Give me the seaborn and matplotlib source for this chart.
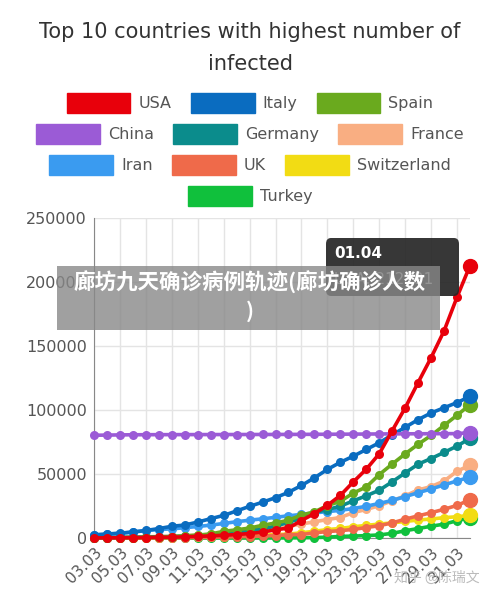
import matplotlib
matplotlib.use("Agg")
import matplotlib.pyplot as plt
import matplotlib.patches as mpatches
import seaborn as sns
import pandas as pd

dates = ["03.03","04.03","05.03","06.03","07.03","08.03","09.03","10.03","11.03","12.03",
         "13.03","14.03","15.03","16.03","17.03","18.03","19.03","20.03","21.03","22.03",
         "23.03","24.03","25.03","26.03","27.03","28.03","29.03","30.03","31.03","01.04"]
usa = [118,149,217,262,402,518,583,959,1281,1663,2179,2726,3499,4632,6421,7786,13680,19101,25493,33276,43847,53740,65778,83836,101657,121478,140886,161807,188172,212791]
italy = [2502,3089,3858,4636,5883,7375,9172,10149,12462,15113,17660,21157,24747,27980,31506,35713,41035,47021,53578,59138,63927,69176,74386,80589,86498,92472,97689,101739,105792,110574]
spain = [165,222,259,400,500,673,1073,1695,2277,3146,5232,6391,7798,9942,11748,13910,17963,20410,25374,28603,35136,39885,49515,57786,65719,73235,80110,87956,95923,104118]
china = [80270,80409,80552,80651,80695,80735,80754,80778,80793,80813,80824,80844,80860,80881,80894,80928,80967,81008,81054,81093,81171,81218,81285,81340,81394,81439,81470,81518,81554,82361]
germany = [196,262,482,670,799,1040,1176,1457,1908,2078,3675,4585,5795,7272,9257,12327,15320,19848,22213,24873,29056,32986,37323,43938,50871,57695,62095,66885,71808,77872]
france = [212,285,423,653,949,1126,1209,1784,2281,2876,3661,4499,5423,6633,7730,9134,10995,12612,14459,16018,19856,22304,25233,29155,32964,37575,40174,44550,52128,56989]
iran = [2336,2922,3513,4747,5823,6566,7161,8042,9000,10075,11364,12729,13938,14991,16169,17361,18407,19644,20610,21638,23049,24811,27017,29406,32332,35408,38309,41495,44605,47593]
uk = [51,87,116,164,207,274,322,384,459,459,802,1144,1145,1551,1960,2642,2716,4014,5067,5745,6726,8164,9640,11812,14745,17312,19780,22453,25481,29865]
switzerland = [56,90,114,214,268,337,374,491,652,652,1139,1359,2200,2200,2700,3028,4075,5294,6575,7474,8795,9877,10897,11811,12928,14076,14829,15922,16605,17768]
turkey = [0,0,0,0,0,0,0,0,1,1,5,5,6,18,47,98,191,359,670,1236,1529,1872,2433,3629,5698,7402,9217,10827,13531,15679]

series = {"USA": usa, "Italy": italy, "Spain": spain, "China": china, "Germany": germany,
          "France": france, "Iran": iran, "UK": uk, "Switzerland": switzerland, "Turkey": turkey}
colors = {"USA": "#e8000b", "Italy": "#0a6cc0", "Spain": "#6aaa1e", "China": "#9b5bd6",
          "Germany": "#0b8c8c", "France": "#f9ae82", "Iran": "#3a9bf0", "UK": "#ef6a4a",
          "Switzerland": "#f2dc14", "Turkey": "#10c03c"}

sns.set_style("white")
fig = plt.figure(figsize=(5, 5.98), dpi=100)
ax = fig.add_axes([0.188, 0.1003, 0.752, 0.5352])

x = list(range(len(dates)))
draw_order = ["Turkey", "Switzerland", "UK", "France", "Iran", "Germany", "Spain", "Italy", "China", "USA"]
for i, name in enumerate(draw_order):
    df = pd.DataFrame({"x": x, "y": series[name]})
    sns.lineplot(data=df, x="x", y="y", ax=ax, color=colors[name], lw=2.6, marker="o",
                 markersize=6.5, markeredgewidth=0, clip_on=False, zorder=3 + i)
    ax.plot([x[-1]], [series[name][-1]], "o", ms=10, color=colors[name], clip_on=False, zorder=3 + i)

ax.set_xlim(0, 29)
ax.set_ylim(0, 250000)
ax.set_xticks(x[::2])
ax.set_xticklabels(dates[::2], rotation=45, ha="right", rotation_mode="anchor", fontsize=11, color="#555555")
ax.set_yticks([0, 50000, 100000, 150000, 200000, 250000])
ax.set_yticklabels(["0", "50000", "100000", "150000", "200000", "250000"], fontsize=11.5, color="#555555")
ax.set_xlabel("")
ax.set_ylabel("")
ax.grid(True, color="#e4e4e4", lw=1)
for s in ["top", "right"]:
    ax.spines[s].set_visible(False)
ax.spines["left"].set_color("#888888")
ax.spines["bottom"].set_color("#888888")
ax.tick_params(length=0, pad=5)

fig.text(0.5, 1 - 32 / 598, "Top 10 countries with highest number of", ha="center", va="center", fontsize=15, color="#333333")
fig.text(0.5, 1 - 64 / 598, "infected", ha="center", va="center", fontsize=15, color="#333333")

rows = [["USA", "Italy", "Spain"], ["China", "Germany", "France"], ["Iran", "UK", "Switzerland"], ["Turkey"]]
ys = [103, 134, 165, 196]
for row, yy in zip(rows, ys):
    handles = [mpatches.Patch(color=colors[n], label=n) for n in row]
    fig.legend(handles=handles, loc="center", bbox_to_anchor=(0.5, 1 - yy / 598), ncol=len(row),
               frameon=False, fontsize=11.5, handlelength=4.0, handleheight=1.5, columnspacing=1.2,
               handletextpad=0.5, labelcolor="#555555")

# tooltip
fig.patches.append(mpatches.FancyBboxPatch((326 / 500, 1 - 296 / 598), 133 / 500, 58 / 598,
                   boxstyle="round,pad=0,rounding_size=0.01", transform=fig.transFigure,
                   facecolor="#262626", edgecolor="none", alpha=0.92, zorder=20))
fig.text(334 / 500, 1 - 254 / 598, "01.04", fontsize=11, color="white", weight="bold", va="center", zorder=21)
fig.text(334 / 500, 1 - 280 / 598, "USA: 212791", fontsize=11, color="#cccccc", va="center", zorder=21)

# banner
fig.patches.append(mpatches.Rectangle((57 / 500, 1 - 330 / 598), 383 / 500, 64 / 598,
                   transform=fig.transFigure, facecolor="#888888", alpha=0.8, edgecolor="none", zorder=22))
fig.text(0.5, 1 - 282 / 598, "廊坊九天确诊病例轨迹(廊坊确诊人数", ha="center", va="center", fontsize=15.5,
         color="white", weight="bold", family=["Noto Sans CJK SC", "DejaVu Sans"], zorder=23)
fig.text(0.5, 1 - 311 / 598, ")", ha="center", va="center", fontsize=15.5,
         color="white", weight="bold", family=["Noto Sans CJK SC", "DejaVu Sans"], zorder=23)
fig.text(0.96, 1 - 578 / 598, "知乎 @陈瑞文", ha="right", va="center", fontsize=10, color="#bbbbbb",
         family=["Noto Sans CJK SC", "DejaVu Sans"], zorder=23)

fig.savefig("out.png", dpi=100, facecolor="white")
